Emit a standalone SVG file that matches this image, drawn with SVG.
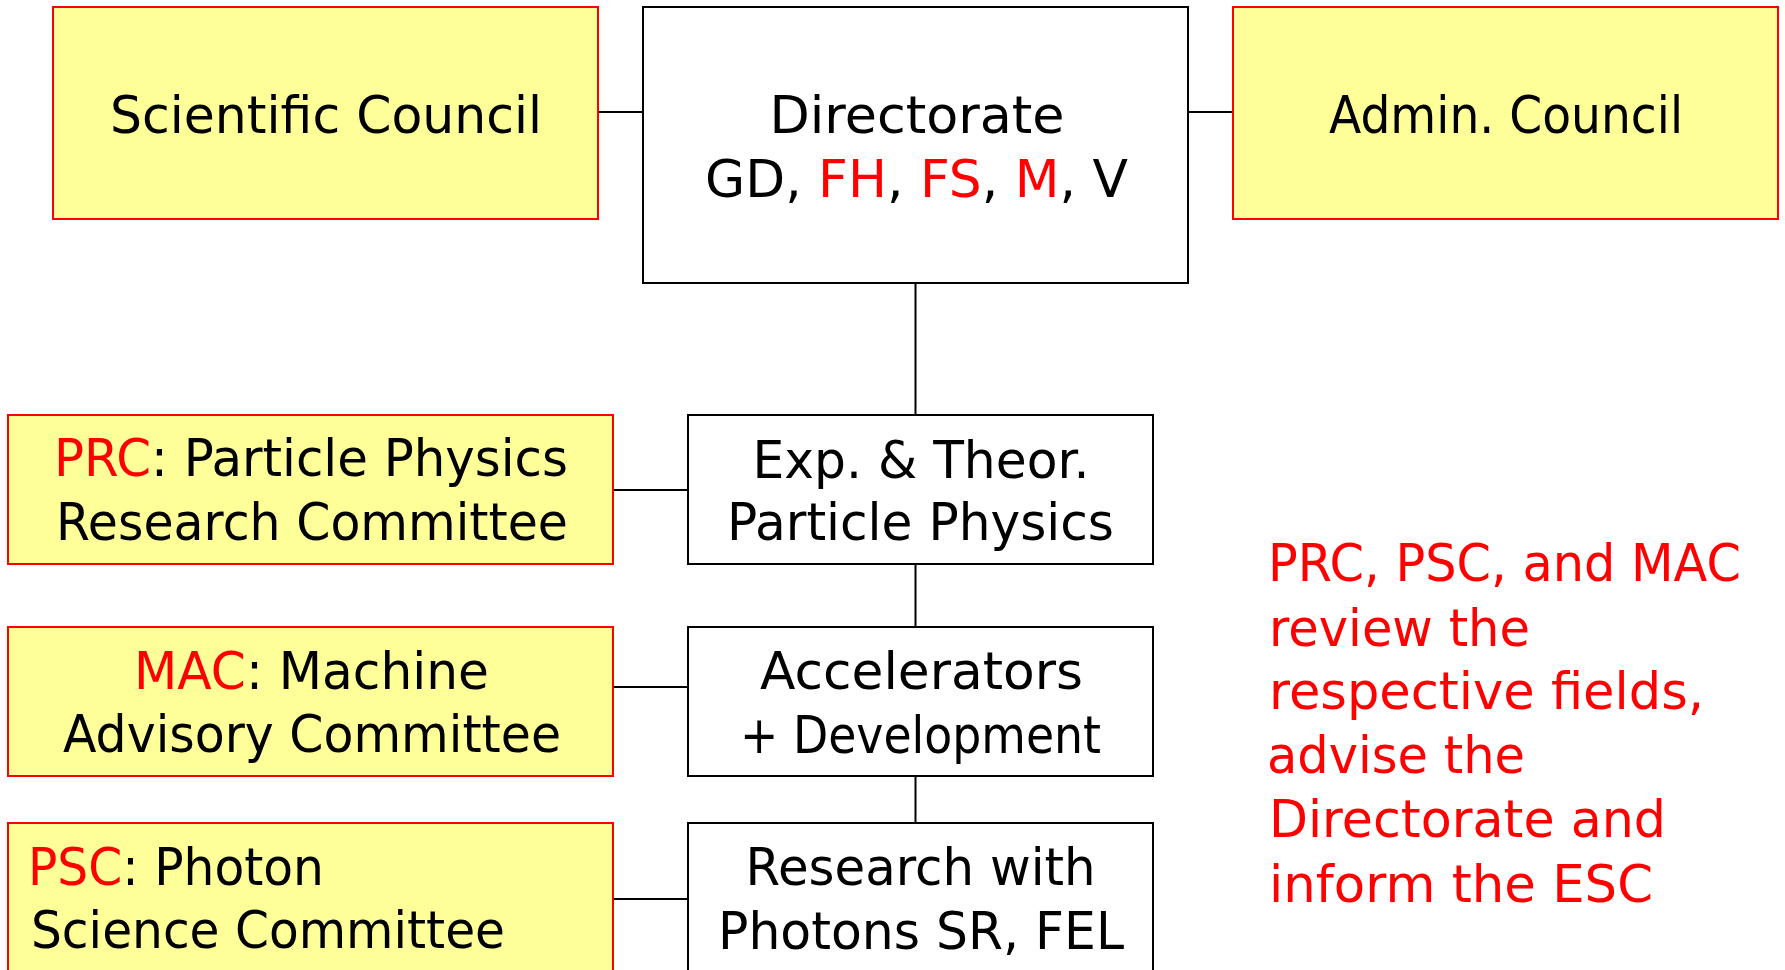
<svg xmlns="http://www.w3.org/2000/svg" width="1785" height="970" viewBox="0 0 1785 970">
<style>
.y{fill:#FFFF99;stroke:#FF0000;stroke-width:2}
.w{fill:#FFFFFF;stroke:#000000;stroke-width:2}
.c{stroke:#000000;stroke-width:2;fill:none}
text{font-family:"DejaVu Sans",sans-serif;font-size:51px;fill:#000000}
.m{text-anchor:middle}
.r{fill:#FF0000}
</style>
<rect width="1785" height="970" fill="#FFFFFF"/>
<g id="connectors">
<line class="c" x1="598" y1="112" x2="643" y2="112"/>
<line class="c" x1="1188" y1="112" x2="1233" y2="112"/>
<line class="c" x1="915.5" y1="283" x2="915.5" y2="415"/>
<line class="c" x1="915.5" y1="564" x2="915.5" y2="627"/>
<line class="c" x1="915.5" y1="776" x2="915.5" y2="823"/>
<line class="c" x1="613" y1="490" x2="688" y2="490"/>
<line class="c" x1="613" y1="687" x2="688" y2="687"/>
<line class="c" x1="613" y1="899" x2="688" y2="899"/>
</g>
<g id="scientific-council">
<rect class="y" x="53" y="7" width="545" height="212"/>
<text class="m" x="326" y="133" textLength="432" lengthAdjust="spacingAndGlyphs">Scientific Council</text>
</g>
<g id="directorate">
<rect class="w" x="643" y="7" width="545" height="276"/>
<text class="m" x="917" y="133" textLength="295" lengthAdjust="spacingAndGlyphs">Directorate</text>
<text class="m" x="916.5" y="197" textLength="423" lengthAdjust="spacingAndGlyphs">GD, <tspan class="r">FH</tspan>, <tspan class="r">FS</tspan>, <tspan class="r">M</tspan>, V</text>
</g>
<g id="admin-council">
<rect class="y" x="1233" y="7" width="545" height="212"/>
<text class="m" x="1506" y="133" textLength="354" lengthAdjust="spacingAndGlyphs">Admin. Council</text>
</g>
<g id="prc">
<rect class="y" x="8" y="415" width="605" height="149"/>
<text class="m" x="311" y="476" textLength="514" lengthAdjust="spacingAndGlyphs"><tspan class="r">PRC</tspan>: Particle Physics</text>
<text class="m" x="312" y="540" textLength="512" lengthAdjust="spacingAndGlyphs">Research Committee</text>
</g>
<g id="mac">
<rect class="y" x="8" y="627" width="605" height="149"/>
<text class="m" x="311.5" y="689" textLength="355" lengthAdjust="spacingAndGlyphs"><tspan class="r">MAC</tspan>: Machine</text>
<text class="m" x="312" y="752" textLength="498" lengthAdjust="spacingAndGlyphs">Advisory Committee</text>
</g>
<g id="psc">
<rect class="y" x="8" y="823" width="605" height="170"/>
<text x="28" y="885" textLength="296" lengthAdjust="spacingAndGlyphs"><tspan class="r">PSC</tspan>: Photon</text>
<text x="31" y="948" textLength="474" lengthAdjust="spacingAndGlyphs">Science Committee</text>
</g>
<g id="particle-physics">
<rect class="w" x="688" y="415" width="465" height="149"/>
<text class="m" x="921" y="478" textLength="337" lengthAdjust="spacingAndGlyphs">Exp. &amp; Theor.</text>
<text class="m" x="920.5" y="540" textLength="387" lengthAdjust="spacingAndGlyphs">Particle Physics</text>
</g>
<g id="accelerators">
<rect class="w" x="688" y="627" width="465" height="149"/>
<text class="m" x="921.5" y="689" textLength="323" lengthAdjust="spacingAndGlyphs">Accelerators</text>
<text class="m" x="920.5" y="753" textLength="361" lengthAdjust="spacingAndGlyphs">+ Development</text>
</g>
<g id="photons">
<rect class="w" x="688" y="823" width="465" height="170"/>
<text class="m" x="920.6" y="885" textLength="350" lengthAdjust="spacingAndGlyphs">Research with</text>
<text class="m" x="921" y="949" textLength="406" lengthAdjust="spacingAndGlyphs">Photons SR, FEL</text>
</g>
<g id="note">
<text class="r" x="1268" y="581" textLength="473" lengthAdjust="spacingAndGlyphs">PRC, PSC, and MAC</text>
<text class="r" x="1269" y="645.7" textLength="261" lengthAdjust="spacingAndGlyphs">review the</text>
<text class="r" x="1269" y="709" textLength="435" lengthAdjust="spacingAndGlyphs">respective fields,</text>
<text class="r" x="1267" y="773" textLength="258" lengthAdjust="spacingAndGlyphs">advise the</text>
<text class="r" x="1269" y="837" textLength="397" lengthAdjust="spacingAndGlyphs">Directorate and</text>
<text class="r" x="1269" y="902" textLength="384" lengthAdjust="spacingAndGlyphs">inform the ESC</text>
</g>
</svg>
